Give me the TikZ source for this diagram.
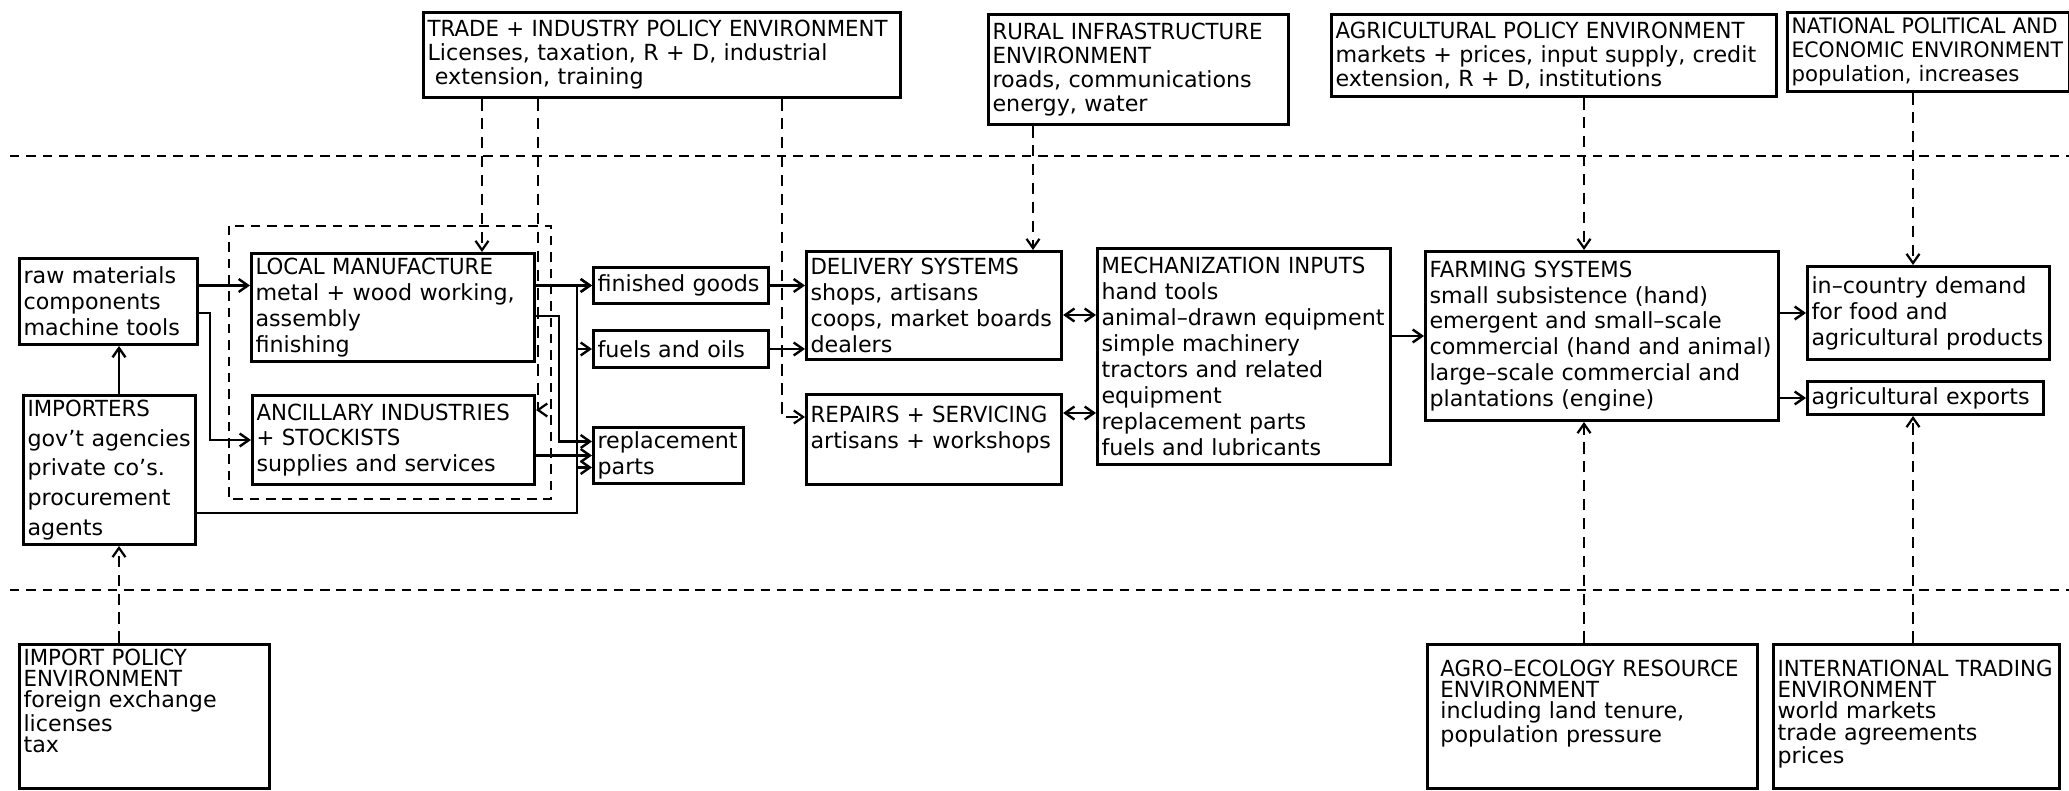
\documentclass[tikz,border=0pt]{standalone}
\usepackage{fontspec}
\setmainfont{DejaVu Sans}
\newfontfamily\capsfont[FakeStretch=0.96]{DejaVu Sans}
\usetikzlibrary{arrows.meta,calc,positioning}
\newcommand{\px}{0.019cm}
\newcommand{\hd}[1]{{\capsfont #1}}
\newcommand{\linestep}[1]{\fontsize{12}{#1}\selectfont}
\tikzset{
    box/.style 2 args={draw, line width=1.6pt, anchor=north west, align=left,
        inner xsep=2.2pt, inner ysep=2pt,
        text width=(#1-8)*\px, minimum height=#2*\px},
    flow/.style={->, line width=1.3pt},
    both/.style={<->, line width=1.3pt},
    policy/.style={->, line width=1.2pt, dash pattern=on 2.2mm off 1.4mm},
    divider/.style={line width=1.2pt, dash pattern=on 1.8mm off 1.3mm},
}
\begin{document}
\begin{tikzpicture}[x=\px, y=-\px, >={Straight Barb[length=5pt,width=7pt]},
    font=\linestep{14}]
    \useasboundingbox (0,0) rectangle (2069,790);

    % environments above the line
    \node[box={477}{85}, font=\linestep{13}] (trade) at (422,11)
        {\hd{TRADE + INDUSTRY POLICY ENVIRONMENT}\\Licenses, taxation, R + D, industrial\\\ extension, training};
    \node[box={300}{110}, font=\linestep{13}] (rural) at (987,13)
        {\hd{RURAL INFRASTRUCTURE}\\\hd{ENVIRONMENT}\\roads, communications\\energy, water};
    \node[box={445}{82}, font=\linestep{13}] (agri) at (1330,13)
        {\hd{AGRICULTURAL POLICY ENVIRONMENT}\\markets + prices, input supply, credit\\extension, R + D, institutions};
    \node[box={282}{79}, font=\fontsize{11.5}{13}\selectfont] (national) at (1786,11)
        {\hd{NATIONAL POLITICAL AND}\\\hd{ECONOMIC ENVIRONMENT}\\population, increases};

    % supply chain
    \node[box={178}{86}] (raw) at (18,257) {raw materials\\components\\machine tools};
    \node[box={172}{149}, font=\linestep{16}] (imp) at (22,394)
        {\hd{IMPORTERS}\\gov't agencies\\private co's.\\procurement\\agents};
    \node[box={283}{108}] (lm) at (250,252)
        {\hd{LOCAL MANUFACTURE}\\metal + wood working,\\assembly\\finishing};
    \node[box={282}{89}] (anc) at (251,394)
        {\hd{ANCILLARY INDUSTRIES}\\\hd{+ STOCKISTS}\\supplies and services};
    \node[box={175}{36}] (fin) at (592,266) {finished goods};
    \node[box={175}{37}] (fuel) at (592,329) {fuels and oils};
    \node[box={150}{56}] (rep) at (592,426) {replacement\\parts};
    \node[box={255}{108}] (deliv) at (805,250)
        {\hd{DELIVERY SYSTEMS}\\shops, artisans\\coops, market boards\\dealers};
    \node[box={255}{90}, text height=24*\px, text depth=59*\px] (repair) at (805,393)
        {\hd{REPAIRS + SERVICING}\\artisans + workshops};
    \node[box={293}{216}] (mech) at (1096,247)
        {\hd{MECHANIZATION INPUTS}\\hand tools\\animal–drawn equipment\\simple machinery\\tractors and related\\equipment\\replacement parts\\fuels and lubricants};
    \node[box={353}{169}] (farm) at (1424,250)
        {\hd{FARMING SYSTEMS}\\small subsistence (hand)\\emergent and small–scale\\commercial (hand and animal)\\large–scale commercial and\\plantations (engine)};
    \node[box={242}{93}] (demand) at (1806,265) {in–country demand\\for food and\\agricultural products};
    \node[box={236}{33}] (export) at (1806,380) {agricultural exports};

    % environments below the line
    \node[box={250}{144}, font=\linestep{11.5}, text height=17*\px, text depth=120*\px] (imppol) at (18,643)
        {\hd{IMPORT POLICY}\\\hd{ENVIRONMENT}\\foreign exchange\\licenses\\tax};
    \node[box={330}{144}, font=\linestep{11.5}, inner xsep=7pt, text width=304*\px,
        text height=28*\px, text depth=109*\px] (agro) at (1426,643)
        {\hd{AGRO–ECOLOGY RESOURCE}\\\hd{ENVIRONMENT}\\including land tenure,\\population pressure};
    \node[box={286}{144}, font=\linestep{11.5}, text height=28*\px, text depth=109*\px] (intl) at (1772,643)
        {\hd{INTERNATIONAL TRADING}\\\hd{ENVIRONMENT}\\world markets\\trade agreements\\prices};

    \draw[divider] (229,226) rectangle (551,499);
    \draw[divider] (10,156) -- (2069,156);
    \draw[divider] (10,590) -- (2069,590);

    \coordinate (imp lane) at (119,0);
    \coordinate (lm lane) at (482,0);
    \coordinate (anc lane) at (538,410);
    \coordinate (repair lane) at (782,417);
    \coordinate (deliv lane) at (1033,0);
    \coordinate (farm lane) at (1584,0);
    \coordinate (demand lane) at (1913,0);
    \coordinate (raw anc) at (210,313);
    \coordinate (lm rep) at (559,316);
    \coordinate (supply) at (577,513);
    \coordinate (mech top) at (0,315);
    \coordinate (mech low) at (0,413);
    \coordinate (rep top) at ($(rep.west)+(0,-14)$);
    \coordinate (rep low) at ($(rep.west)+(0,12)$);

    % imports
    \draw[flow] (imp.north -| imp lane) -- (raw.south -| imp lane);
    \draw[flow] (raw.east |- fin.west) -- (lm.west |- fin.west);
    \draw[flow] (raw.east |- raw anc) -- (raw anc) |- (anc.west);
    \draw[flow] (imp.east |- supply) -| (supply |- fin.west) -- (fin.west);
    \draw[flow] (supply |- fuel.west) -- (fuel.west);
    \draw[flow] (supply |- rep low) -- (rep low);
    % local production
    \draw[flow] (lm.east |- fin.west) -- (fin.west);
    \draw[flow] (lm.east |- lm rep) -- (lm rep) |- (rep top);
    \draw[flow] (anc.east |- rep.west) -- (rep.west);
    % distribution and use
    \draw[flow] (fin.east) -- (deliv.west |- fin.east);
    \draw[flow] (fuel.east) -- (deliv.west |- fuel.east);
    \draw[both] (deliv.east |- mech top) -- (mech.west |- mech top);
    \draw[both] (repair.east |- mech low) -- (mech.west |- mech low);
    \draw[flow] (mech.east |- farm.west) -- (farm.west);
    \draw[flow] (farm.east |- demand.west) -- (demand.west);
    \draw[flow] (farm.east |- export.west) -- (export.west);
    % policy influences
    \draw[policy] (trade.south -| lm lane) -- (lm.north -| lm lane);
    \draw[policy] (trade.south -| anc lane) -- (anc lane) -- (anc.east |- anc lane);
    \draw[policy] (trade.south -| repair lane) -- (repair lane) -- (repair.west |- repair lane);
    \draw[policy] (rural.south -| deliv lane) -- (deliv.north -| deliv lane);
    \draw[policy] (agri.south -| farm lane) -- (farm.north -| farm lane);
    \draw[policy] (national.south -| demand lane) -- (demand.north -| demand lane);
    \draw[policy] (imppol.north -| imp lane) -- (imp.south -| imp lane);
    \draw[policy] (agro.north -| farm lane) -- (farm.south -| farm lane);
    \draw[policy] (intl.north -| demand lane) -- (export.south -| demand lane);
\end{tikzpicture}
\end{document}
